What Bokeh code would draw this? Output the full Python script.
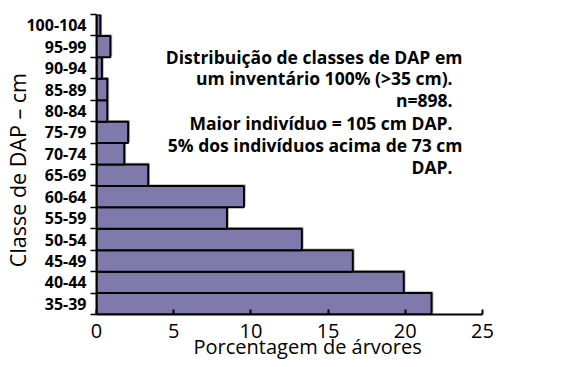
from bokeh.plotting import figure
from bokeh.models import Range1d, FixedTicker, Label, ColumnDataSource
from bokeh.embed import file_html
from bokeh.resources import INLINE

classes = ["35-39", "40-44", "45-49", "50-54", "55-59", "60-64", "65-69",
           "70-74", "75-79", "80-84", "85-89", "90-94", "95-99", "100-104"]
pct = [21.7, 19.9, 16.6, 13.3, 8.45, 9.55, 3.35, 1.8, 2.05, 0.7, 0.7, 0.35, 0.9, 0.25]
x_ticks = [0, 5, 10, 15, 20, 25]
note_lines = ["Distribuição de classes de DAP em",
              "um inventário 100% (>35 cm).",
              "n=898.",
              "Maior indivíduo = 105 cm DAP.",
              "5% dos indivíduos acima de 73 cm",
              "DAP."]
x_title = "Porcentagem de árvores"
y_title = "Classe de DAP – cm"

FONT = "Open Sans"
NBSP = "\u00a0"
n = len(classes)
centers = [i + 0.5 for i in range(n)]

src = ColumnDataSource(dict(
    y=centers,
    right=pct,
    ys=[c + 0.08 for c in centers],
    rs=[v + 0.12 for v in pct],
))

p = figure(width=567, height=367, output_backend="svg", toolbar_location=None,
           x_range=Range1d(0, 25), y_range=Range1d(0, n),
           min_border_left=95, min_border_right=85, min_border_top=14,
           min_border_bottom=53)
p.outline_line_color = None
p.grid.grid_line_color = None
p.background_fill_color = "white"

# shadow
p.hbar(y="ys", left=0, right="rs", height=1, source=src,
       fill_color="#b4b4b4", line_color=None)
p.hbar(y="y", left=0, right="right", height=1, source=src,
       fill_color="#8079ac", line_color="black", line_width=2)

xa = p.xaxis[0]
xa.ticker = FixedTicker(ticks=x_ticks)
xa.axis_line_width = 2
xa.major_tick_line_width = 2
xa.major_tick_in = 5
xa.major_tick_out = 0
xa.minor_tick_line_color = None
xa.major_label_text_font = FONT
xa.major_label_text_font_size = "20px"
xa.major_label_text_color = "black"
xa.major_label_standoff = 9
xa.axis_label = NBSP * 7 + x_title
xa.axis_label_text_font = FONT
xa.axis_label_text_font_style = "normal"
xa.axis_label_text_font_size = "20px"
xa.axis_label_text_color = "black"
xa.axis_label_standoff = -8

ya = p.yaxis[0]
ya.ticker = FixedTicker(ticks=centers, minor_ticks=list(range(n + 1)))
ya.major_label_overrides = {c: lab for c, lab in zip(centers, classes)}
ya.axis_line_width = 2
ya.major_tick_line_color = None
ya.major_tick_out = 0
ya.major_tick_in = 0
ya.minor_tick_line_width = 1.5
ya.minor_tick_out = 6
ya.minor_tick_in = 0
ya.major_label_text_font = FONT
ya.major_label_text_font_style = "bold"
ya.major_label_text_font_size = "16px"
ya.major_label_text_color = "black"
ya.major_label_standoff = 4
ya.axis_label = y_title + NBSP * 2
ya.axis_label_text_font = FONT
ya.axis_label_text_font_style = "normal"
ya.axis_label_text_font_size = "21.5px"
ya.axis_label_text_color = "black"
ya.axis_label_standoff = -9

note_x = [23.7, 23.06, 23.06, 23.06, 23.7, 23.06]
note_y = [12.0, 11.02, 9.99, 8.93, 7.89, 6.87]
for t, xx, yy in zip(note_lines, note_x, note_y):
    p.add_layout(Label(x=xx, y=yy, text=t, text_align="right",
                       text_baseline="alphabetic", text_font=FONT,
                       text_font_style="bold", text_font_size="17.5px",
                       text_color="black"))

open("out.html", "w").write(file_html(p, INLINE))
